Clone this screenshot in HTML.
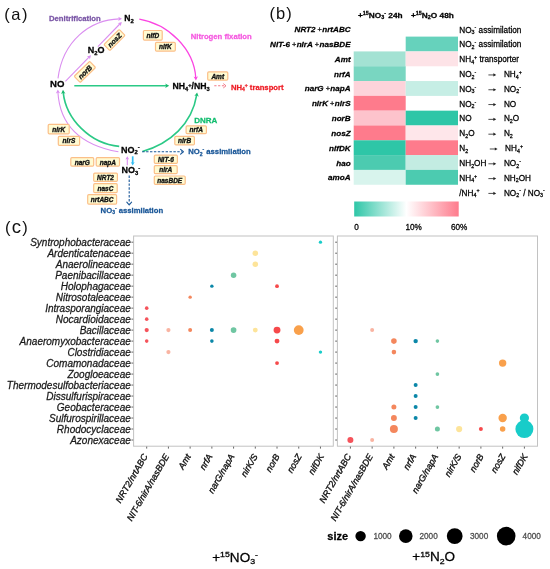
<!DOCTYPE html>
<html><head><meta charset="utf-8"><title>fig</title>
<style>
html,body{margin:0;padding:0;background:#fff;width:550px;height:569px;overflow:hidden;}
svg{position:absolute;left:0;top:0;display:block;will-change:transform;}
text{font-family:"Liberation Sans", sans-serif;}
.b{font-weight:bold;}
.i{font-style:italic;}
.bi{font-weight:bold;font-style:italic;}
</style></head><body>
<svg width="550" height="569" viewBox="0 0 550 569">

<text x="4.3" y="20.3" font-size="16.5" letter-spacing="1.5" fill="#111" stroke="none">(a)</text>
<text x="269.5" y="19.3" font-size="16.5" letter-spacing="1.1" fill="#111" stroke="none">(b)</text>
<text x="4.9" y="233" font-size="16.5" fill="#111" stroke="none">(<tspan dx="1.3" font-size="18.6">c</tspan><tspan dx="1.3">)</tspan></text>
<path d="M58.00,78.40 C62.67,40.88 90.01,19.71 119.45,18.83" fill="none" stroke="#da8ef0" stroke-width="1.1"/>
<path d="M118.20,20.89 L122.00,18.80 L118.20,16.71 L119.15,18.80 Z" fill="#da8ef0"/>
<path d="M65.4,81.3 L89.0,57.2" fill="none" stroke="#da8ef0" stroke-width="1.1"/>
<path d="M89.83,59.38 L91.00,55.20 L86.85,56.45 L89.00,57.24 Z" fill="#da8ef0"/>
<path d="M97.9,46.6 L119.8,24.0" fill="none" stroke="#da8ef0" stroke-width="1.1"/>
<path d="M120.65,26.18 L121.80,22.00 L117.65,23.27 L119.81,24.04 Z" fill="#da8ef0"/>
<path d="M118.40,151.80 C84.79,145.74 60.06,128.14 57.91,92.17" fill="none" stroke="#da8ef0" stroke-width="1.1"/>
<path d="M60.04,93.32 L57.80,89.60 L55.86,93.48 L57.91,92.45 Z" fill="#da8ef0"/>
<path d="M119.20,146.40 C89.98,143.85 65.98,119.07 63.20,92.37" fill="none" stroke="#2bc986" stroke-width="1.6"/>
<path d="M65.45,93.65 L63.00,89.80 L61.06,93.93 L63.19,92.79 Z" fill="#16b86c"/>
<path d="M74.3,85.7 L166.8,85.7" fill="none" stroke="#2bc986" stroke-width="1.6"/>
<path d="M165.20,87.90 L169.20,85.70 L165.20,83.50 L166.20,85.70 Z" fill="#16b86c"/>
<path d="M139.30,19.20 C168.65,24.16 193.95,48.95 195.80,77.89" fill="none" stroke="#fb45e2" stroke-width="1.3"/>
<path d="M193.58,76.47 L195.90,80.40 L197.98,76.34 L195.81,77.40 Z" fill="#fb45e2"/>
<path d="M142.40,151.50 C170.20,143.53 191.95,123.94 196.73,94.93" fill="none" stroke="#2bc986" stroke-width="1.6"/>
<path d="M198.73,96.66 L197.10,92.40 L194.37,96.06 L196.69,95.37 Z" fill="#16b86c"/>
<path d="M142.2,151.8 L182,151.8" fill="none" stroke="#1a5798" stroke-width="1.1" stroke-dasharray="2.4,1.5"/>
<path d="M180.60,154.18 L183.40,151.80 L180.60,149.42" fill="none" stroke="#1a5798" stroke-width="1.15" stroke-linecap="round" stroke-linejoin="round"/>
<path d="M129.2,175.6 L129.2,203.5" fill="none" stroke="#1a5798" stroke-width="1.1" stroke-dasharray="2.4,1.5"/>
<path d="M126.82,202.20 L129.20,205.00 L131.58,202.20" fill="none" stroke="#1a5798" stroke-width="1.15" stroke-linecap="round" stroke-linejoin="round"/>
<path d="M127.3,165.2 L127.3,158.5" fill="none" stroke="#da8ef0" stroke-width="1.1"/>
<path d="M129.17,159.60 L127.30,156.20 L125.43,159.60 L127.30,158.75 Z" fill="#da8ef0"/>
<path d="M132.7,156.3 L132.7,163" fill="none" stroke="#33bdf2" stroke-width="1.7"/>
<path d="M130.72,162.00 L132.70,165.60 L134.68,162.00 L132.70,162.90 Z" fill="#33bdf2"/>
<path d="M214.3,85.8 L224.0,85.8" fill="none" stroke="#f27886" stroke-width="1.1" stroke-dasharray="2.2,1.6"/>
<path d="M223.60,87.72 L226.00,85.80 L223.60,83.88" fill="none" stroke="#f27886" stroke-width="1.0" stroke-linecap="round" stroke-linejoin="round"/>
<rect x="143.40" y="30.50" width="18.80" height="9.60" rx="1.1" fill="#fffbd2" stroke="#fbbf88" stroke-width="1.2"/>
<text x="152.80" y="37.90" font-size="6.5" class="bi" text-anchor="middle" fill="#111" stroke="#111" stroke-width="0.34">nifD</text>
<rect x="155.50" y="42.40" width="19.80" height="8.70" rx="1.1" fill="#fffbd2" stroke="#fbbf88" stroke-width="1.2"/>
<text x="165.40" y="49.35" font-size="6.5" class="bi" text-anchor="middle" fill="#111" stroke="#111" stroke-width="0.34">nifK</text>
<rect x="207.70" y="71.90" width="20.10" height="8.30" rx="1.1" fill="#fffbd2" stroke="#fbbf88" stroke-width="1.2"/>
<text x="217.75" y="78.65" font-size="6.5" class="bi" text-anchor="middle" fill="#111" stroke="#111" stroke-width="0.34">Amt</text>
<rect x="48.20" y="124.40" width="21.00" height="9.40" rx="1.1" fill="#fffbd2" stroke="#fbbf88" stroke-width="1.2"/>
<text x="58.70" y="131.70" font-size="6.5" class="bi" text-anchor="middle" fill="#111" stroke="#111" stroke-width="0.34">nirK</text>
<rect x="58.30" y="136.30" width="21.30" height="9.10" rx="1.1" fill="#fffbd2" stroke="#fbbf88" stroke-width="1.2"/>
<text x="68.95" y="143.45" font-size="6.5" class="bi" text-anchor="middle" fill="#111" stroke="#111" stroke-width="0.34">nirS</text>
<rect x="70.80" y="157.60" width="22.90" height="8.60" rx="1.1" fill="#fffbd2" stroke="#fbbf88" stroke-width="1.2"/>
<text x="82.25" y="164.50" font-size="6.5" class="bi" text-anchor="middle" fill="#111" stroke="#111" stroke-width="0.34">narG</text>
<rect x="96.20" y="157.60" width="23.30" height="8.60" rx="1.1" fill="#fffbd2" stroke="#fbbf88" stroke-width="1.2"/>
<text x="107.85" y="164.50" font-size="6.5" class="bi" text-anchor="middle" fill="#111" stroke="#111" stroke-width="0.34">napA</text>
<rect x="93.70" y="173.10" width="23.70" height="8.30" rx="1.1" fill="#fffbd2" stroke="#fbbf88" stroke-width="1.2"/>
<text x="105.55" y="179.85" font-size="6.5" class="bi" text-anchor="middle" fill="#111" stroke="#111" stroke-width="0.34">NRT2</text>
<rect x="93.70" y="183.70" width="23.50" height="9.00" rx="1.1" fill="#fffbd2" stroke="#fbbf88" stroke-width="1.2"/>
<text x="105.45" y="190.80" font-size="6.5" class="bi" text-anchor="middle" fill="#111" stroke="#111" stroke-width="0.34">nasC</text>
<rect x="87.70" y="194.70" width="28.90" height="9.40" rx="1.1" fill="#fffbd2" stroke="#fbbf88" stroke-width="1.2"/>
<text x="102.15" y="202.00" font-size="6.5" class="bi" text-anchor="middle" fill="#111" stroke="#111" stroke-width="0.34">nrtABC</text>
<rect x="186.10" y="125.90" width="20.30" height="7.80" rx="1.1" fill="#fffbd2" stroke="#fbbf88" stroke-width="1.2"/>
<text x="196.25" y="132.40" font-size="6.5" class="bi" text-anchor="middle" fill="#111" stroke="#111" stroke-width="0.34">nrfA</text>
<rect x="174.80" y="136.40" width="19.60" height="8.40" rx="1.1" fill="#fffbd2" stroke="#fbbf88" stroke-width="1.2"/>
<text x="184.60" y="143.20" font-size="6.5" class="bi" text-anchor="middle" fill="#111" stroke="#111" stroke-width="0.34">nirB</text>
<rect x="154.30" y="155.20" width="23.10" height="8.20" rx="1.1" fill="#fffbd2" stroke="#fbbf88" stroke-width="1.2"/>
<text x="165.85" y="161.90" font-size="6.5" class="bi" text-anchor="middle" fill="#111" stroke="#111" stroke-width="0.34">NIT-6</text>
<rect x="154.30" y="165.70" width="22.90" height="7.90" rx="1.1" fill="#fffbd2" stroke="#fbbf88" stroke-width="1.2"/>
<text x="165.75" y="172.25" font-size="6.5" class="bi" text-anchor="middle" fill="#111" stroke="#111" stroke-width="0.34">nirA</text>
<rect x="154.30" y="176.00" width="30.90" height="8.30" rx="1.1" fill="#fffbd2" stroke="#fbbf88" stroke-width="1.2"/>
<text x="169.75" y="182.75" font-size="6.5" class="bi" text-anchor="middle" fill="#111" stroke="#111" stroke-width="0.34">nasBDE</text>
<g transform="translate(84.9,71.9) rotate(-44)">
<rect x="-10.75" y="-4.30" width="21.50" height="8.60" rx="1.1" fill="#fffbd2" stroke="#fbbf88" stroke-width="1.2"/>
<text x="0" y="2.66" font-size="7.0" class="bi" text-anchor="middle" fill="#111" stroke="#111" stroke-width="0.34">norB</text>
</g>
<g transform="translate(114.5,40.0) rotate(-45)">
<rect x="-10.80" y="-4.20" width="21.60" height="8.40" rx="1.1" fill="#fffbd2" stroke="#fbbf88" stroke-width="1.2"/>
<text x="0" y="2.66" font-size="7.0" class="bi" text-anchor="middle" fill="#111" stroke="#111" stroke-width="0.34">nosZ</text>
</g>
<text x="50.1" y="86.9" font-size="9.6" class="b" fill="#000" stroke="#000" stroke-width="0.26">NO</text>
<text x="87.8" y="53.2" font-size="9.0" class="b" fill="#000" stroke="#000" stroke-width="0.26"><tspan>N</tspan><tspan font-size="5.85" dy="1.80">2</tspan><tspan dy="-1.80">O</tspan></text>
<text x="124.2" y="21.0" font-size="8.6" class="b" fill="#000" stroke="#000" stroke-width="0.26"><tspan>N</tspan><tspan font-size="5.90" dy="1.72">2</tspan></text>
<text x="172.5" y="89.4" font-size="8.7" class="b" fill="#000" stroke="#000" stroke-width="0.26"><tspan>NH</tspan><tspan font-size="5.65" dy="1.74">4</tspan><tspan font-size="5.65" dy="-3.83">+</tspan><tspan dy="2.09">/NH</tspan><tspan font-size="5.65" dy="1.74">3</tspan></text>
<text x="121.1" y="152.5" font-size="9.0" class="b" fill="#000" stroke="#000" stroke-width="0.26"><tspan>NO</tspan><tspan font-size="5.85" dy="1.80">2</tspan><tspan font-size="5.85" dy="-5.22">-</tspan></text>
<text x="121.6" y="173.2" font-size="9.0" class="b" fill="#000" stroke="#000" stroke-width="0.26"><tspan>NO</tspan><tspan font-size="5.85" dy="1.80">3</tspan><tspan font-size="5.85" dy="-5.22">-</tspan></text>
<text x="49" y="21.4" font-size="7.7" class="b" fill="#7a56a6" stroke="#7a56a6" stroke-width="0.26">Denitrification</text>
<text x="190.7" y="38.7" font-size="7.7" class="b" fill="#f55ae0" stroke="#f55ae0" stroke-width="0.26">Nitrogen fixation</text>
<text x="194.2" y="123.4" font-size="8.0" class="b" fill="#12bd6f" stroke="#12bd6f" stroke-width="0.26">DNRA</text>
<text x="188.2" y="154" font-size="7.7" class="b" fill="#1a5798" stroke="#1a5798" stroke-width="0.26"><tspan>NO</tspan><tspan font-size="5.00" dy="1.54">2</tspan><tspan font-size="5.00" dy="-4.47">-</tspan><tspan dy="2.93"> assimilation</tspan></text>
<text x="100.6" y="212.6" font-size="7.7" class="b" fill="#1a5798" stroke="#1a5798" stroke-width="0.26"><tspan>NO</tspan><tspan font-size="5.00" dy="1.54">3</tspan><tspan font-size="5.00" dy="-4.47">-</tspan><tspan dy="2.93"> assimilation</tspan></text>
<text x="230.9" y="89.6" font-size="7.7" class="b" fill="#ee1c25" stroke="#ee1c25" stroke-width="0.26"><tspan>NH</tspan><tspan font-size="5.00" dy="1.54">4</tspan><tspan font-size="5.00" dy="-4.47">+</tspan><tspan dy="2.93"> transport</tspan></text>
<rect x="405.7" y="36.61" width="52.30" height="14.86" fill="#66d2bc"/>
<rect x="353.7" y="51.42" width="52.00" height="14.86" fill="#a3e2d3"/>
<rect x="405.7" y="51.42" width="52.30" height="14.86" fill="#fde3e7"/>
<rect x="353.7" y="66.23" width="52.00" height="14.86" fill="#79d6c1"/>
<rect x="353.7" y="81.04" width="52.00" height="14.86" fill="#fdd3da"/>
<rect x="405.7" y="81.04" width="52.30" height="14.86" fill="#c6eee5"/>
<rect x="353.7" y="95.85" width="52.00" height="14.86" fill="#fe7b8c"/>
<rect x="353.7" y="110.66" width="52.00" height="14.86" fill="#fdc3cc"/>
<rect x="405.7" y="110.66" width="52.30" height="14.86" fill="#2ec6a7"/>
<rect x="353.7" y="125.47" width="52.00" height="14.86" fill="#fe7b8c"/>
<rect x="405.7" y="125.47" width="52.30" height="14.86" fill="#fee6ea"/>
<rect x="353.7" y="140.28" width="52.00" height="14.86" fill="#2ec6a7"/>
<rect x="405.7" y="140.28" width="52.30" height="14.86" fill="#fe7b8c"/>
<rect x="353.7" y="155.09" width="52.00" height="14.86" fill="#4ccbb0"/>
<rect x="405.7" y="155.09" width="52.30" height="14.86" fill="#c3ece2"/>
<rect x="353.7" y="169.90" width="52.00" height="14.86" fill="#d8f4ed"/>
<rect x="405.7" y="169.90" width="52.30" height="14.86" fill="#4ccbb0"/>
<text transform="translate(358.0,17.6) scale(1.12,1)" font-size="7.4" class="b" fill="#000" stroke="#000" stroke-width="0.26"><tspan>+</tspan><tspan font-size="4.81" dy="-2.81">15</tspan><tspan dy="2.81">NO</tspan><tspan font-size="4.81" dy="1.48">3</tspan><tspan font-size="4.81" dy="-4.29">-</tspan><tspan dy="2.81"> 24h</tspan></text>
<text transform="translate(411.0,17.6) scale(1.12,1)" font-size="7.4" class="b" fill="#000" stroke="#000" stroke-width="0.26"><tspan>+</tspan><tspan font-size="4.81" dy="-2.81">15</tspan><tspan dy="2.81">N</tspan><tspan font-size="4.81" dy="1.48">2</tspan><tspan dy="-1.48">O 48h</tspan></text>
<text x="350.6" y="32.20" font-size="8.1" class="bi" text-anchor="end" fill="#000" stroke="#000" stroke-width="0.26">NRT2<tspan font-weight="normal" font-style="normal" font-size="7.4" dx="2.0">+</tspan><tspan dx="0.4">nrtABC</tspan></text>
<text x="350.6" y="47.02" font-size="8.1" class="bi" text-anchor="end" fill="#000" stroke="#000" stroke-width="0.26">NIT-6<tspan font-weight="normal" font-style="normal" font-size="7.4" dx="2.0">+</tspan><tspan dx="0.4">nirA</tspan><tspan font-weight="normal" font-style="normal" font-size="7.4" dx="2.0">+</tspan><tspan dx="0.4">nasBDE</tspan></text>
<text x="350.6" y="61.83" font-size="8.1" class="bi" text-anchor="end" fill="#000" stroke="#000" stroke-width="0.26">Amt</text>
<text x="350.6" y="76.64" font-size="8.1" class="bi" text-anchor="end" fill="#000" stroke="#000" stroke-width="0.26">nrfA</text>
<text x="350.6" y="91.45" font-size="8.1" class="bi" text-anchor="end" fill="#000" stroke="#000" stroke-width="0.26">narG<tspan font-weight="normal" font-style="normal" font-size="7.4" dx="2.0">+</tspan><tspan dx="0.4">napA</tspan></text>
<text x="350.6" y="106.25" font-size="8.1" class="bi" text-anchor="end" fill="#000" stroke="#000" stroke-width="0.26">nirK<tspan font-weight="normal" font-style="normal" font-size="7.4" dx="2.0">+</tspan><tspan dx="0.4">nirS</tspan></text>
<text x="350.6" y="121.06" font-size="8.1" class="bi" text-anchor="end" fill="#000" stroke="#000" stroke-width="0.26">norB</text>
<text x="350.6" y="135.88" font-size="8.1" class="bi" text-anchor="end" fill="#000" stroke="#000" stroke-width="0.26">nosZ</text>
<text x="350.6" y="150.69" font-size="8.1" class="bi" text-anchor="end" fill="#000" stroke="#000" stroke-width="0.26">nifDK</text>
<text x="350.6" y="165.50" font-size="8.1" class="bi" text-anchor="end" fill="#000" stroke="#000" stroke-width="0.26">hao</text>
<text x="350.6" y="180.31" font-size="8.1" class="bi" text-anchor="end" fill="#000" stroke="#000" stroke-width="0.26">amoA</text>
<text x="459.3" y="32.61" font-size="8.2" fill="#000" stroke="#000" stroke-width="0.26"><tspan>NO</tspan><tspan font-size="5.33" dy="1.64">3</tspan><tspan font-size="5.33" dy="-4.76">-</tspan><tspan dy="3.12"> assimilation</tspan></text>
<text x="459.3" y="47.41" font-size="8.2" fill="#000" stroke="#000" stroke-width="0.26"><tspan>NO</tspan><tspan font-size="5.33" dy="1.64">2</tspan><tspan font-size="5.33" dy="-4.76">-</tspan><tspan dy="3.12"> assimilation</tspan></text>
<text x="459.3" y="62.23" font-size="8.2" fill="#000" stroke="#000" stroke-width="0.26"><tspan>NH</tspan><tspan font-size="5.33" dy="1.64">4</tspan><tspan font-size="5.33" dy="-4.76">+</tspan><tspan dy="3.12"> transporter</tspan></text>
<text x="459.3" y="77.04" font-size="8.2" fill="#000" stroke="#000" stroke-width="0.26"><tspan>NO</tspan><tspan font-size="5.33" dy="1.64">2</tspan><tspan font-size="5.33" dy="-4.76">-</tspan></text>
<line x1="488.4" y1="74.94" x2="494.00" y2="74.94" stroke="#222" stroke-width="0.8"/>
<path d="M493.40,73.34 L496.20,74.94 L493.40,76.54 Z" fill="#222"/>
<text x="503.9" y="77.04" font-size="8.2" fill="#000" stroke="#000" stroke-width="0.26"><tspan>NH</tspan><tspan font-size="5.33" dy="1.64">4</tspan><tspan font-size="5.33" dy="-4.76">+</tspan></text>
<text x="459.3" y="91.85" font-size="8.2" fill="#000" stroke="#000" stroke-width="0.26"><tspan>NO</tspan><tspan font-size="5.33" dy="1.64">3</tspan><tspan font-size="5.33" dy="-4.76">-</tspan></text>
<line x1="488.4" y1="89.75" x2="494.00" y2="89.75" stroke="#222" stroke-width="0.8"/>
<path d="M493.40,88.15 L496.20,89.75 L493.40,91.35 Z" fill="#222"/>
<text x="503.9" y="91.85" font-size="8.2" fill="#000" stroke="#000" stroke-width="0.26"><tspan>NO</tspan><tspan font-size="5.33" dy="1.64">2</tspan><tspan font-size="5.33" dy="-4.76">-</tspan></text>
<text x="459.3" y="106.66" font-size="8.2" fill="#000" stroke="#000" stroke-width="0.26"><tspan>NO</tspan><tspan font-size="5.33" dy="1.64">2</tspan><tspan font-size="5.33" dy="-4.76">-</tspan></text>
<line x1="488.4" y1="104.56" x2="494.00" y2="104.56" stroke="#222" stroke-width="0.8"/>
<path d="M493.40,102.96 L496.20,104.56 L493.40,106.16 Z" fill="#222"/>
<text x="503.9" y="106.66" font-size="8.2" fill="#000" stroke="#000" stroke-width="0.26"><tspan>NO</tspan></text>
<text x="459.3" y="121.47" font-size="8.2" fill="#000" stroke="#000" stroke-width="0.26"><tspan>NO</tspan></text>
<line x1="488.4" y1="119.37" x2="494.00" y2="119.37" stroke="#222" stroke-width="0.8"/>
<path d="M493.40,117.77 L496.20,119.37 L493.40,120.97 Z" fill="#222"/>
<text x="503.9" y="121.47" font-size="8.2" fill="#000" stroke="#000" stroke-width="0.26"><tspan>N</tspan><tspan font-size="5.33" dy="1.64">2</tspan><tspan dy="-1.64">O</tspan></text>
<text x="459.3" y="136.28" font-size="8.2" fill="#000" stroke="#000" stroke-width="0.26"><tspan>N</tspan><tspan font-size="5.33" dy="1.64">2</tspan><tspan dy="-1.64">O</tspan></text>
<line x1="488.4" y1="134.18" x2="494.00" y2="134.18" stroke="#222" stroke-width="0.8"/>
<path d="M493.40,132.58 L496.20,134.18 L493.40,135.78 Z" fill="#222"/>
<text x="503.9" y="136.28" font-size="8.2" fill="#000" stroke="#000" stroke-width="0.26"><tspan>N</tspan><tspan font-size="5.33" dy="1.64">2</tspan></text>
<text x="459.3" y="151.09" font-size="8.2" fill="#000" stroke="#000" stroke-width="0.26"><tspan>N</tspan><tspan font-size="5.33" dy="1.64">2</tspan></text>
<line x1="489.8" y1="148.99" x2="495.40" y2="148.99" stroke="#222" stroke-width="0.8"/>
<path d="M494.80,147.39 L497.60,148.99 L494.80,150.59 Z" fill="#222"/>
<text x="505.1" y="151.09" font-size="8.2" fill="#000" stroke="#000" stroke-width="0.26"><tspan>NH</tspan><tspan font-size="5.33" dy="1.64">4</tspan><tspan font-size="5.33" dy="-4.76">+</tspan></text>
<text x="459.3" y="165.90" font-size="8.2" fill="#000" stroke="#000" stroke-width="0.26"><tspan>NH</tspan><tspan font-size="5.33" dy="1.64">2</tspan><tspan dy="-1.64">OH</tspan></text>
<line x1="488.4" y1="163.80" x2="494.00" y2="163.80" stroke="#222" stroke-width="0.8"/>
<path d="M493.40,162.20 L496.20,163.80 L493.40,165.40 Z" fill="#222"/>
<text x="503.9" y="165.90" font-size="8.2" fill="#000" stroke="#000" stroke-width="0.26"><tspan>NO</tspan><tspan font-size="5.33" dy="1.64">2</tspan><tspan font-size="5.33" dy="-4.76">-</tspan></text>
<text x="459.3" y="180.71" font-size="8.2" fill="#000" stroke="#000" stroke-width="0.26"><tspan>NH</tspan><tspan font-size="5.33" dy="1.64">4</tspan><tspan font-size="5.33" dy="-4.76">+</tspan></text>
<line x1="488.4" y1="178.61" x2="494.00" y2="178.61" stroke="#222" stroke-width="0.8"/>
<path d="M493.40,177.01 L496.20,178.61 L493.40,180.21 Z" fill="#222"/>
<text x="503.9" y="180.71" font-size="8.2" fill="#000" stroke="#000" stroke-width="0.26"><tspan>NH</tspan><tspan font-size="5.33" dy="1.64">2</tspan><tspan dy="-1.64">OH</tspan></text>
<text x="459.3" y="195.52" font-size="8.2" fill="#000" stroke="#000" stroke-width="0.26"><tspan>/NH</tspan><tspan font-size="5.33" dy="1.64">4</tspan><tspan font-size="5.33" dy="-4.76">+</tspan></text>
<line x1="488.4" y1="193.42" x2="494.00" y2="193.42" stroke="#222" stroke-width="0.8"/>
<path d="M493.40,191.82 L496.20,193.42 L493.40,195.02 Z" fill="#222"/>
<text x="503.9" y="195.52" font-size="8.2" fill="#000" stroke="#000" stroke-width="0.26"><tspan>NO</tspan><tspan font-size="5.33" dy="1.64">2</tspan><tspan font-size="5.33" dy="-4.76">-</tspan><tspan dy="3.12"> / NO</tspan><tspan font-size="5.33" dy="1.64">3</tspan><tspan font-size="5.33" dy="-4.76">-</tspan></text>
<defs><linearGradient id="cb" x1="0" x2="1" y1="0" y2="0"><stop offset="0" stop-color="#2ec6a7"/><stop offset="0.5" stop-color="#ffffff"/><stop offset="1" stop-color="#fe7b8c"/></linearGradient></defs>
<rect x="354.2" y="201.5" width="104.5" height="15.0" fill="url(#cb)"/>
<text x="354.3" y="229.7" font-size="8.2" fill="#000" stroke="#000" stroke-width="0.26">0</text>
<text x="405.4" y="229.7" font-size="8.2" fill="#000" stroke="#000" stroke-width="0.26">10%</text>
<text x="451" y="229.7" font-size="8.2" fill="#000" stroke="#000" stroke-width="0.26">60%</text>
<rect x="133.6" y="236.0" width="199.70000000000002" height="210.2" fill="none" stroke="#c2c2c2" stroke-width="1"/>
<rect x="337.4" y="236.0" width="200.10000000000002" height="210.2" fill="none" stroke="#c2c2c2" stroke-width="1"/>
<text x="130.8" y="246.30" font-size="10" class="i" text-anchor="end" fill="#1a1a1a" stroke="#1a1a1a" stroke-width="0.26">Syntrophobacteraceae</text>
<line x1="131.4" y1="242.20" x2="133.2" y2="242.20" stroke="#555" stroke-width="0.9"/>
<line x1="335.2" y1="242.20" x2="337.0" y2="242.20" stroke="#555" stroke-width="0.9"/>
<text x="130.8" y="257.29" font-size="10" class="i" text-anchor="end" fill="#1a1a1a" stroke="#1a1a1a" stroke-width="0.26">Ardenticatenaceae</text>
<line x1="131.4" y1="253.19" x2="133.2" y2="253.19" stroke="#555" stroke-width="0.9"/>
<line x1="335.2" y1="253.19" x2="337.0" y2="253.19" stroke="#555" stroke-width="0.9"/>
<text x="130.8" y="268.28" font-size="10" class="i" text-anchor="end" fill="#1a1a1a" stroke="#1a1a1a" stroke-width="0.26">Anaerolineaceae</text>
<line x1="131.4" y1="264.18" x2="133.2" y2="264.18" stroke="#555" stroke-width="0.9"/>
<line x1="335.2" y1="264.18" x2="337.0" y2="264.18" stroke="#555" stroke-width="0.9"/>
<text x="130.8" y="279.27" font-size="10" class="i" text-anchor="end" fill="#1a1a1a" stroke="#1a1a1a" stroke-width="0.26">Paenibacillaceae</text>
<line x1="131.4" y1="275.17" x2="133.2" y2="275.17" stroke="#555" stroke-width="0.9"/>
<line x1="335.2" y1="275.17" x2="337.0" y2="275.17" stroke="#555" stroke-width="0.9"/>
<text x="130.8" y="290.26" font-size="10" class="i" text-anchor="end" fill="#1a1a1a" stroke="#1a1a1a" stroke-width="0.26">Holophagaceae</text>
<line x1="131.4" y1="286.16" x2="133.2" y2="286.16" stroke="#555" stroke-width="0.9"/>
<line x1="335.2" y1="286.16" x2="337.0" y2="286.16" stroke="#555" stroke-width="0.9"/>
<text x="130.8" y="301.25" font-size="10" class="i" text-anchor="end" fill="#1a1a1a" stroke="#1a1a1a" stroke-width="0.26">Nitrosotaleaceae</text>
<line x1="131.4" y1="297.15" x2="133.2" y2="297.15" stroke="#555" stroke-width="0.9"/>
<line x1="335.2" y1="297.15" x2="337.0" y2="297.15" stroke="#555" stroke-width="0.9"/>
<text x="130.8" y="312.24" font-size="10" class="i" text-anchor="end" fill="#1a1a1a" stroke="#1a1a1a" stroke-width="0.26">Intrasporangiaceae</text>
<line x1="131.4" y1="308.14" x2="133.2" y2="308.14" stroke="#555" stroke-width="0.9"/>
<line x1="335.2" y1="308.14" x2="337.0" y2="308.14" stroke="#555" stroke-width="0.9"/>
<text x="130.8" y="323.23" font-size="10" class="i" text-anchor="end" fill="#1a1a1a" stroke="#1a1a1a" stroke-width="0.26">Nocardioidaceae</text>
<line x1="131.4" y1="319.13" x2="133.2" y2="319.13" stroke="#555" stroke-width="0.9"/>
<line x1="335.2" y1="319.13" x2="337.0" y2="319.13" stroke="#555" stroke-width="0.9"/>
<text x="130.8" y="334.22" font-size="10" class="i" text-anchor="end" fill="#1a1a1a" stroke="#1a1a1a" stroke-width="0.26">Bacillaceae</text>
<line x1="131.4" y1="330.12" x2="133.2" y2="330.12" stroke="#555" stroke-width="0.9"/>
<line x1="335.2" y1="330.12" x2="337.0" y2="330.12" stroke="#555" stroke-width="0.9"/>
<text x="130.8" y="345.21" font-size="10" class="i" text-anchor="end" fill="#1a1a1a" stroke="#1a1a1a" stroke-width="0.26">Anaeromyxobacteraceae</text>
<line x1="131.4" y1="341.11" x2="133.2" y2="341.11" stroke="#555" stroke-width="0.9"/>
<line x1="335.2" y1="341.11" x2="337.0" y2="341.11" stroke="#555" stroke-width="0.9"/>
<text x="130.8" y="356.20" font-size="10" class="i" text-anchor="end" fill="#1a1a1a" stroke="#1a1a1a" stroke-width="0.26">Clostridiaceae</text>
<line x1="131.4" y1="352.10" x2="133.2" y2="352.10" stroke="#555" stroke-width="0.9"/>
<line x1="335.2" y1="352.10" x2="337.0" y2="352.10" stroke="#555" stroke-width="0.9"/>
<text x="130.8" y="367.19" font-size="10" class="i" text-anchor="end" fill="#1a1a1a" stroke="#1a1a1a" stroke-width="0.26">Comamonadaceae</text>
<line x1="131.4" y1="363.09" x2="133.2" y2="363.09" stroke="#555" stroke-width="0.9"/>
<line x1="335.2" y1="363.09" x2="337.0" y2="363.09" stroke="#555" stroke-width="0.9"/>
<text x="130.8" y="378.18" font-size="10" class="i" text-anchor="end" fill="#1a1a1a" stroke="#1a1a1a" stroke-width="0.26">Zoogloeaceae</text>
<line x1="131.4" y1="374.08" x2="133.2" y2="374.08" stroke="#555" stroke-width="0.9"/>
<line x1="335.2" y1="374.08" x2="337.0" y2="374.08" stroke="#555" stroke-width="0.9"/>
<text x="130.8" y="389.17" font-size="10" class="i" text-anchor="end" fill="#1a1a1a" stroke="#1a1a1a" stroke-width="0.26">Thermodesulfobacteriaceae</text>
<line x1="131.4" y1="385.07" x2="133.2" y2="385.07" stroke="#555" stroke-width="0.9"/>
<line x1="335.2" y1="385.07" x2="337.0" y2="385.07" stroke="#555" stroke-width="0.9"/>
<text x="130.8" y="400.16" font-size="10" class="i" text-anchor="end" fill="#1a1a1a" stroke="#1a1a1a" stroke-width="0.26">Dissulfurispiraceae</text>
<line x1="131.4" y1="396.06" x2="133.2" y2="396.06" stroke="#555" stroke-width="0.9"/>
<line x1="335.2" y1="396.06" x2="337.0" y2="396.06" stroke="#555" stroke-width="0.9"/>
<text x="130.8" y="411.15" font-size="10" class="i" text-anchor="end" fill="#1a1a1a" stroke="#1a1a1a" stroke-width="0.26">Geobacteraceae</text>
<line x1="131.4" y1="407.05" x2="133.2" y2="407.05" stroke="#555" stroke-width="0.9"/>
<line x1="335.2" y1="407.05" x2="337.0" y2="407.05" stroke="#555" stroke-width="0.9"/>
<text x="130.8" y="422.14" font-size="10" class="i" text-anchor="end" fill="#1a1a1a" stroke="#1a1a1a" stroke-width="0.26">Sulfurospirillaceae</text>
<line x1="131.4" y1="418.04" x2="133.2" y2="418.04" stroke="#555" stroke-width="0.9"/>
<line x1="335.2" y1="418.04" x2="337.0" y2="418.04" stroke="#555" stroke-width="0.9"/>
<text x="130.8" y="433.13" font-size="10" class="i" text-anchor="end" fill="#1a1a1a" stroke="#1a1a1a" stroke-width="0.26">Rhodocyclaceae</text>
<line x1="131.4" y1="429.03" x2="133.2" y2="429.03" stroke="#555" stroke-width="0.9"/>
<line x1="335.2" y1="429.03" x2="337.0" y2="429.03" stroke="#555" stroke-width="0.9"/>
<text x="130.8" y="444.12" font-size="10" class="i" text-anchor="end" fill="#1a1a1a" stroke="#1a1a1a" stroke-width="0.26">Azonexaceae</text>
<line x1="131.4" y1="440.02" x2="133.2" y2="440.02" stroke="#555" stroke-width="0.9"/>
<line x1="335.2" y1="440.02" x2="337.0" y2="440.02" stroke="#555" stroke-width="0.9"/>
<line x1="146.70" y1="446.59999999999997" x2="146.70" y2="448.59999999999997" stroke="#555" stroke-width="0.9"/>
<text transform="translate(147.90,456.20) rotate(-60)" font-size="9" class="i" text-anchor="end" fill="#111" stroke="#111" stroke-width="0.34">NRT2/nrtABC</text>
<line x1="350.40" y1="446.59999999999997" x2="350.40" y2="448.59999999999997" stroke="#555" stroke-width="0.9"/>
<text transform="translate(351.60,456.20) rotate(-60)" font-size="9" class="i" text-anchor="end" fill="#111" stroke="#111" stroke-width="0.34">NRT2/nrtABC</text>
<line x1="168.42" y1="446.59999999999997" x2="168.42" y2="448.59999999999997" stroke="#555" stroke-width="0.9"/>
<text transform="translate(169.62,456.20) rotate(-60)" font-size="9" class="i" text-anchor="end" fill="#111" stroke="#111" stroke-width="0.34">NIT-6/nirA/nasBDE</text>
<line x1="372.15" y1="446.59999999999997" x2="372.15" y2="448.59999999999997" stroke="#555" stroke-width="0.9"/>
<text transform="translate(373.35,456.20) rotate(-60)" font-size="9" class="i" text-anchor="end" fill="#111" stroke="#111" stroke-width="0.34">NIT-6/nirA/nasBDE</text>
<line x1="190.14" y1="446.59999999999997" x2="190.14" y2="448.59999999999997" stroke="#555" stroke-width="0.9"/>
<text transform="translate(191.34,456.20) rotate(-60)" font-size="9" class="i" text-anchor="end" fill="#111" stroke="#111" stroke-width="0.34">Amt</text>
<line x1="393.90" y1="446.59999999999997" x2="393.90" y2="448.59999999999997" stroke="#555" stroke-width="0.9"/>
<text transform="translate(395.10,456.20) rotate(-60)" font-size="9" class="i" text-anchor="end" fill="#111" stroke="#111" stroke-width="0.34">Amt</text>
<line x1="211.86" y1="446.59999999999997" x2="211.86" y2="448.59999999999997" stroke="#555" stroke-width="0.9"/>
<text transform="translate(212.76,456.20) rotate(-60)" font-size="9" class="i" text-anchor="end" fill="#111" stroke="#111" stroke-width="0.34">nrfA</text>
<line x1="415.65" y1="446.59999999999997" x2="415.65" y2="448.59999999999997" stroke="#555" stroke-width="0.9"/>
<text transform="translate(416.55,456.20) rotate(-60)" font-size="9" class="i" text-anchor="end" fill="#111" stroke="#111" stroke-width="0.34">nrfA</text>
<line x1="233.58" y1="446.59999999999997" x2="233.58" y2="448.59999999999997" stroke="#555" stroke-width="0.9"/>
<text transform="translate(234.78,456.20) rotate(-60)" font-size="9" class="i" text-anchor="end" fill="#111" stroke="#111" stroke-width="0.34">narG/napA</text>
<line x1="437.40" y1="446.59999999999997" x2="437.40" y2="448.59999999999997" stroke="#555" stroke-width="0.9"/>
<text transform="translate(438.60,456.20) rotate(-60)" font-size="9" class="i" text-anchor="end" fill="#111" stroke="#111" stroke-width="0.34">narG/napA</text>
<line x1="255.30" y1="446.59999999999997" x2="255.30" y2="448.59999999999997" stroke="#555" stroke-width="0.9"/>
<text transform="translate(257.90,456.20) rotate(-60)" font-size="9" class="i" text-anchor="end" fill="#111" stroke="#111" stroke-width="0.34">nirK/S</text>
<line x1="459.15" y1="446.59999999999997" x2="459.15" y2="448.59999999999997" stroke="#555" stroke-width="0.9"/>
<text transform="translate(461.75,456.20) rotate(-60)" font-size="9" class="i" text-anchor="end" fill="#111" stroke="#111" stroke-width="0.34">nirK/S</text>
<line x1="277.02" y1="446.59999999999997" x2="277.02" y2="448.59999999999997" stroke="#555" stroke-width="0.9"/>
<text transform="translate(280.02,456.20) rotate(-60)" font-size="9" class="i" text-anchor="end" fill="#111" stroke="#111" stroke-width="0.34">norB</text>
<line x1="480.90" y1="446.59999999999997" x2="480.90" y2="448.59999999999997" stroke="#555" stroke-width="0.9"/>
<text transform="translate(483.90,456.20) rotate(-60)" font-size="9" class="i" text-anchor="end" fill="#111" stroke="#111" stroke-width="0.34">norB</text>
<line x1="298.74" y1="446.59999999999997" x2="298.74" y2="448.59999999999997" stroke="#555" stroke-width="0.9"/>
<text transform="translate(301.94,456.20) rotate(-60)" font-size="9" class="i" text-anchor="end" fill="#111" stroke="#111" stroke-width="0.34">nosZ</text>
<line x1="502.65" y1="446.59999999999997" x2="502.65" y2="448.59999999999997" stroke="#555" stroke-width="0.9"/>
<text transform="translate(505.85,456.20) rotate(-60)" font-size="9" class="i" text-anchor="end" fill="#111" stroke="#111" stroke-width="0.34">nosZ</text>
<line x1="320.46" y1="446.59999999999997" x2="320.46" y2="448.59999999999997" stroke="#555" stroke-width="0.9"/>
<text transform="translate(324.16,456.20) rotate(-60)" font-size="9" class="i" text-anchor="end" fill="#111" stroke="#111" stroke-width="0.34">nifDK</text>
<line x1="524.40" y1="446.59999999999997" x2="524.40" y2="448.59999999999997" stroke="#555" stroke-width="0.9"/>
<text transform="translate(528.10,456.20) rotate(-60)" font-size="9" class="i" text-anchor="end" fill="#111" stroke="#111" stroke-width="0.34">nifDK</text>
<circle cx="320.46" cy="242.20" r="1.65" fill="#18ccc9"/>
<circle cx="255.30" cy="253.19" r="2.75" fill="#fde49a"/>
<circle cx="255.30" cy="264.18" r="2.75" fill="#fde49a"/>
<circle cx="233.58" cy="275.17" r="2.75" fill="#6fc6a2"/>
<circle cx="211.86" cy="286.16" r="1.70" fill="#0b87a8"/>
<circle cx="277.02" cy="286.16" r="1.90" fill="#f6494b"/>
<circle cx="190.14" cy="297.15" r="1.70" fill="#f4875d"/>
<circle cx="146.70" cy="308.14" r="1.80" fill="#f5535b"/>
<circle cx="146.70" cy="319.13" r="1.80" fill="#f5535b"/>
<circle cx="146.70" cy="330.12" r="2.10" fill="#f5535b"/>
<circle cx="168.42" cy="330.12" r="2.10" fill="#f9b4a2"/>
<circle cx="190.14" cy="330.12" r="2.00" fill="#f4875d"/>
<circle cx="211.86" cy="330.12" r="2.00" fill="#0b87a8"/>
<circle cx="233.58" cy="330.12" r="2.85" fill="#6fc6a2"/>
<circle cx="255.30" cy="330.12" r="2.45" fill="#fde49a"/>
<circle cx="277.02" cy="330.12" r="3.45" fill="#f6494b"/>
<circle cx="298.74" cy="330.12" r="4.90" fill="#f9a04b"/>
<circle cx="146.70" cy="341.11" r="1.80" fill="#f5535b"/>
<circle cx="211.86" cy="341.11" r="1.80" fill="#0b87a8"/>
<circle cx="277.02" cy="341.11" r="2.45" fill="#f6494b"/>
<circle cx="168.42" cy="352.10" r="2.10" fill="#f9b4a2"/>
<circle cx="320.46" cy="352.10" r="1.70" fill="#18ccc9"/>
<circle cx="277.02" cy="363.09" r="1.90" fill="#f6494b"/>
<circle cx="372.15" cy="330.12" r="2.00" fill="#f9b4a2"/>
<circle cx="393.90" cy="341.11" r="2.80" fill="#f4875d"/>
<circle cx="415.65" cy="341.11" r="2.20" fill="#0b87a8"/>
<circle cx="437.40" cy="341.11" r="1.80" fill="#6fc6a2"/>
<circle cx="393.90" cy="352.10" r="2.30" fill="#f4875d"/>
<circle cx="502.65" cy="363.09" r="3.70" fill="#f9a04b"/>
<circle cx="437.40" cy="374.08" r="1.85" fill="#6fc6a2"/>
<circle cx="415.65" cy="385.07" r="2.00" fill="#0b87a8"/>
<circle cx="415.65" cy="396.06" r="2.00" fill="#0b87a8"/>
<circle cx="393.90" cy="407.05" r="2.50" fill="#f4875d"/>
<circle cx="415.65" cy="407.05" r="2.00" fill="#0b87a8"/>
<circle cx="437.40" cy="407.05" r="1.85" fill="#6fc6a2"/>
<circle cx="393.90" cy="418.04" r="2.95" fill="#f4875d"/>
<circle cx="415.65" cy="418.04" r="2.00" fill="#0b87a8"/>
<circle cx="502.65" cy="418.04" r="4.20" fill="#f9a04b"/>
<circle cx="524.40" cy="418.04" r="4.60" fill="#18ccc9"/>
<circle cx="393.90" cy="429.03" r="4.00" fill="#f4875d"/>
<circle cx="437.40" cy="429.03" r="2.50" fill="#6fc6a2"/>
<circle cx="459.15" cy="429.03" r="3.10" fill="#fde49a"/>
<circle cx="480.90" cy="429.03" r="2.00" fill="#f6494b"/>
<circle cx="502.65" cy="429.03" r="2.75" fill="#f9a04b"/>
<circle cx="524.40" cy="429.03" r="9.00" fill="#18ccc9"/>
<circle cx="350.40" cy="440.02" r="3.00" fill="#f5535b"/>
<circle cx="372.15" cy="440.02" r="2.00" fill="#f9b4a2"/>
<text x="327.3" y="540.2" font-size="11" class="b" fill="#000" stroke="#000" stroke-width="0.26">size</text>
<circle cx="360.6" cy="536.1" r="5.2" fill="#000"/>
<text x="373.4" y="539.1" font-size="8.2" fill="#4d4d4d" stroke="#4d4d4d" stroke-width="0.26">1000</text>
<circle cx="405.8" cy="536.1" r="6.8" fill="#000"/>
<text x="419.5" y="539.1" font-size="8.2" fill="#4d4d4d" stroke="#4d4d4d" stroke-width="0.26">2000</text>
<circle cx="454.7" cy="536.1" r="7.9" fill="#000"/>
<text x="470" y="539.1" font-size="8.2" fill="#4d4d4d" stroke="#4d4d4d" stroke-width="0.26">3000</text>
<circle cx="506.2" cy="536.1" r="9.3" fill="#000"/>
<text x="522.6" y="539.1" font-size="8.2" fill="#4d4d4d" stroke="#4d4d4d" stroke-width="0.26">4000</text>
<text transform="translate(212.2,561.6) scale(1.1,1)" font-size="12.3" fill="#000" stroke="#000" stroke-width="0.26"><tspan>+</tspan><tspan font-size="8.00" dy="-4.67">15</tspan><tspan dy="4.67">NO</tspan><tspan font-size="8.00" dy="2.46">3</tspan><tspan font-size="8.00" dy="-7.13">-</tspan></text>
<text transform="translate(412.3,561.4) scale(1.1,1)" font-size="12.3" fill="#000" stroke="#000" stroke-width="0.26"><tspan>+</tspan><tspan font-size="8.00" dy="-4.67">15</tspan><tspan dy="4.67">N</tspan><tspan font-size="8.00" dy="2.46">2</tspan><tspan dy="-2.46">O</tspan></text>
</svg></body></html>
